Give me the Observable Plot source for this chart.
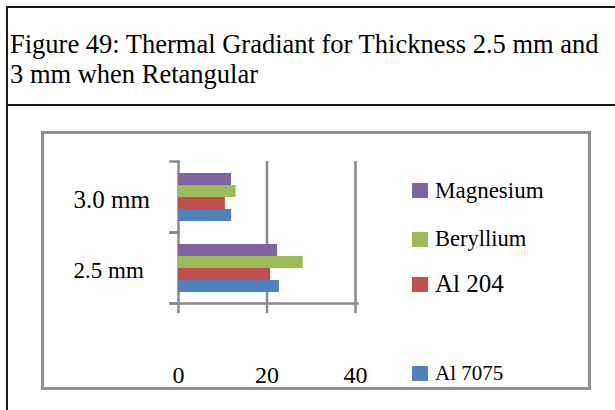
<!DOCTYPE html>
<html><head><meta charset="utf-8">
<script src="https://cdn.jsdelivr.net/npm/d3@7"></script>
<script src="https://cdn.jsdelivr.net/npm/@observablehq/plot@0.6"></script>
<style>
html,body{margin:0;padding:0;background:#fff;}
body{width:615px;height:410px;position:relative;overflow:hidden;font-family:"Liberation Serif","Times New Roman",serif;color:#000;}
.ln{position:absolute;background:#1a1a1a;}
#title{position:absolute;left:10px;top:29px;font-size:26.5px;line-height:30px;white-space:nowrap;}
#box{position:absolute;left:41px;top:131px;width:550px;height:259px;box-sizing:border-box;border:3px solid #909090;}
#chart{position:absolute;left:0;top:0;}
.sw{position:absolute;left:412px;width:16px;height:15px;}
.lt{position:absolute;left:435px;line-height:1;white-space:nowrap;}
</style></head><body>
<div class="ln" style="left:6px;top:6px;width:609px;height:2px"></div>
<div class="ln" style="left:6px;top:6px;width:2px;height:404px"></div>
<div class="ln" style="left:6px;top:104px;width:609px;height:2px"></div>
<div id="title">Figure 49: Thermal Gradiant for Thickness 2.5 mm and<br>3 mm when Retangular</div>
<div id="box"></div>
<div id="chart"></div>
<div id="legend"></div>
<script>
const thicknesses = ["3.0 mm", "2.5 mm"];
const materials = ["Magnesium", "Beryllium", "Al 204", "Al 7075"];
const magnesium = [12.0, 22.4];
const beryllium = [13.0, 28.2];
const al204 = [10.6, 20.8];
const al7075 = [12.0, 22.8];
const xTicks = [0, 20, 40];

const series = [magnesium, beryllium, al204, al7075];
const palette = ["#8064A2", "#9BBB59", "#C0504D", "#4F81BD"];
const labelSize = {"3.0 mm": 25, "2.5 mm": 23};
const rows = thicknesses.flatMap((t, i) => materials.map((m, j) => ({thickness: t, material: m, value: series[j][i]})));

const grid = "#8a8a8a";
const chart = Plot.plot({
  width: 615, height: 410,
  marginLeft: 178, marginRight: 260, marginTop: 160, marginBottom: 107,
  style: {background: "transparent", fontFamily: "'Liberation Serif', 'Times New Roman', serif", color: "#000", overflow: "visible"},
  x: {domain: [0, 40], axis: null},
  y: {domain: materials, paddingInner: 0, paddingOuter: 0.8, axis: null},
  fy: {domain: thicknesses, padding: 0, axis: null},
  color: {domain: materials, range: palette},
  marks: [
    Plot.gridX(xTicks.slice(1), {stroke: grid, strokeOpacity: 1, strokeWidth: 2.5}),
    Plot.ruleX([0], {stroke: grid, strokeWidth: 2.5}),
    Plot.frame({anchor: "top", insetLeft: -8, insetRight: 177, stroke: grid, strokeWidth: 2.5}),
    Plot.frame({anchor: "bottom", insetLeft: -8, insetRight: 177, stroke: grid, strokeWidth: 2.5}),
    Plot.frame({anchor: "bottom", insetLeft: -8, insetRight: -2, stroke: grid, strokeWidth: 2.5, facetAnchor: "bottom"}),
    Plot.barX(rows, {fy: "thickness", y: "material", x: "value", fill: "material"}),
    Plot.axisX(xTicks, {tickSize: 10, tickFormat: () => "", stroke: grid, strokeWidth: 2.5, label: null}),
    Plot.axisX(xTicks, {tickSize: 0, tickPadding: 62, fontSize: 24, fill: "#000", label: null}),
    Plot.text(thicknesses, {fy: d => d, text: d => d, frameAnchor: "left", textAnchor: "start", dx: -105, dy: 2.5, fontSize: d => labelSize[d], fill: "#000"})
  ]
});
document.getElementById("chart").appendChild(chart);

// legend
const legendSquareTop = {"Magnesium": 183, "Beryllium": 232, "Al 204": 277, "Al 7075": 366};
const legendFont = {"Magnesium": 23, "Beryllium": 22.5, "Al 204": 25, "Al 7075": 21};
const lg = document.getElementById("legend");
materials.forEach((m, j) => {
  const top = legendSquareTop[m];
  const sw = document.createElement("div");
  sw.className = "sw";
  sw.style.top = top + "px";
  sw.style.background = palette[j];
  lg.appendChild(sw);
  const t = document.createElement("div");
  t.className = "lt";
  const f = legendFont[m];
  t.style.fontSize = f + "px";
  t.style.top = (top + 15 - 0.8375 * f) + "px";
  t.textContent = m;
  lg.appendChild(t);
});
</script>
</body></html>
